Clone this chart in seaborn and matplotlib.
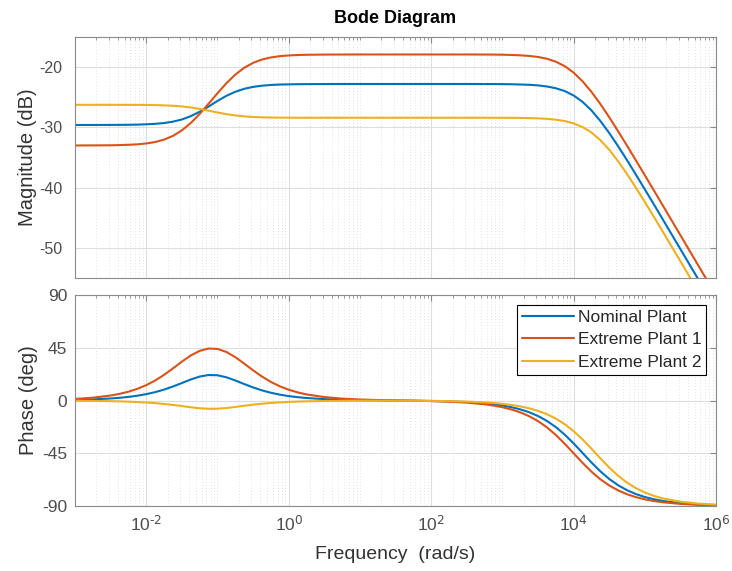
import matplotlib
matplotlib.use("Agg")
import matplotlib.pyplot as plt
import matplotlib.ticker as mticker
import numpy as np
import pandas as pd
import seaborn as sns

sns.set_style("white")
plt.rcParams["font.family"] = ["Liberation Sans", "DejaVu Sans"]
plt.rcParams["mathtext.default"] = "regular"
plt.rcParams["axes.unicode_minus"] = False

# -----------------------------
# Data
# -----------------------------
freq = [1e-3, 1.778e-3, 3.162e-3, 4.217e-3, 5.623e-3, 7.499e-3, 1e-2,
        1.334e-2, 1.778e-2, 2.371e-2, 3.162e-2, 4.217e-2, 5.623e-2, 7.499e-2, 0.1,
        0.1334, 0.1778, 0.2371, 0.3162, 0.4217, 0.5623, 0.7499, 1.0,
        1.334, 1.778, 3.162, 5.623, 10.0, 17.78, 31.62, 56.23, 100.0,
        177.8, 316.2, 562.3, 749.9, 1e3,
        1334.0, 1778.0, 2371.0, 3162.0, 4217.0, 5623.0, 7499.0, 1e4,
        13340.0, 17780.0, 23710.0, 31620.0, 42170.0, 56230.0, 74990.0, 1e5,
        133400.0, 177800.0, 316200.0, 562300.0, 1e6]

mag_nominal = [-29.60, -29.60, -29.59, -29.58, -29.57, -29.54, -29.49,
               -29.41, -29.28, -29.05, -28.69, -28.14, -27.41, -26.54, -25.61,
               -24.76, -24.09, -23.60, -23.28, -23.08, -22.96, -22.89, -22.86,
               -22.83, -22.82, -22.81, -22.80, -22.80, -22.80, -22.80, -22.80, -22.80,
               -22.80, -22.80, -22.81, -22.81, -22.82,
               -22.84, -22.88, -22.93, -23.03, -23.21, -23.50, -23.97, -24.70,
               -25.76, -27.17, -28.92, -30.93, -33.12, -35.44, -37.84, -40.28,
               -42.74, -45.23, -50.21, -55.20, -60.20]
mag_extreme1 = [-33.00, -32.99, -32.97, -32.94, -32.89, -32.81, -32.67,
                -32.43, -32.03, -31.41, -30.50, -29.27, -27.77, -26.07, -24.33,
                -22.67, -21.24, -20.11, -19.29, -18.74, -18.39, -18.18, -18.06,
                -17.99, -17.95, -17.92, -17.91, -17.90, -17.90, -17.90, -17.90, -17.90,
                -17.90, -17.90, -17.91, -17.92, -17.94,
                -17.98, -18.04, -18.14, -18.31, -18.61, -19.09, -19.84, -20.91,
                -22.34, -24.09, -26.11, -28.31, -30.64, -33.03, -35.48, -37.94,
                -40.42, -42.91, -47.90, -52.90, -57.90]
mag_extreme2 = [-26.25, -26.25, -26.25, -26.26, -26.26, -26.27, -26.28,
                -26.30, -26.35, -26.41, -26.52, -26.69, -26.93, -27.22, -27.53,
                -27.80, -28.02, -28.17, -28.27, -28.33, -28.36, -28.38, -28.39,
                -28.40, -28.40, -28.40, -28.40, -28.40, -28.40, -28.40, -28.40, -28.40,
                -28.40, -28.40, -28.40, -28.41, -28.41,
                -28.42, -28.43, -28.46, -28.50, -28.58, -28.72, -28.95, -29.33,
                -29.94, -30.85, -32.11, -33.71, -35.62, -37.74, -40.01, -42.38,
                -44.80, -47.26, -52.22, -57.21, -62.21]

phase_nominal = [0.56, 0.98, 1.75, 2.33, 3.09, 4.11, 5.43,
                 7.15, 9.33, 11.96, 14.93, 17.95, 20.44, 21.77, 21.55,
                 19.82, 17.13, 14.08, 11.18, 8.67, 6.63, 5.03, 3.79,
                 2.86, 2.15, 1.21, 0.66, 0.34, 0.13, -0.01, -0.17, -0.38,
                 -0.74, -1.33, -2.38, -3.17, -4.23,
                 -5.65, -7.51, -9.97, -13.19, -17.36, -22.63, -29.07, -36.55,
                 -44.67, -52.81, -60.37, -66.90, -72.26, -76.51, -79.80, -82.32,
                 -84.22, -85.66, -87.56, -88.63, -89.23]
phase_extreme1 = [1.35, 2.41, 4.28, 5.68, 7.54, 9.98, 13.13,
                  17.10, 21.91, 27.42, 33.16, 38.44, 42.38, 44.36, 44.02,
                  41.42, 37.02, 31.52, 25.78, 20.45, 15.86, 12.14, 9.22,
                  6.95, 5.23, 2.94, 1.64, 0.88, 0.43, 0.12, -0.15, -0.48,
                  -0.97, -1.78, -3.20, -4.28, -5.70,
                  -7.60, -10.07, -13.34, -17.55, -22.87, -29.35, -36.87, -45.00,
                  -53.13, -60.65, -67.13, -72.45, -76.66, -79.92, -82.41, -84.29,
                  -85.71, -86.78, -88.19, -88.98, -89.43]
phase_extreme2 = [-0.17, -0.31, -0.55, -0.73, -0.96, -1.28, -1.69,
                  -2.23, -2.92, -3.76, -4.73, -5.74, -6.60, -7.06, -6.97,
                  -6.39, -5.47, -4.45, -3.51, -2.71, -2.07, -1.57, -1.18,
                  -0.89, -0.67, -0.39, -0.23, -0.15, -0.12, -0.13, -0.18, -0.30,
                  -0.51, -0.90, -1.59, -2.11, -2.80,
                  -3.74, -4.98, -6.62, -8.80, -11.67, -15.40, -20.17, -26.10,
                  -33.15, -41.05, -49.27, -57.15, -64.16, -70.05, -74.77, -78.46,
                  -81.29, -83.45, -86.31, -87.92, -88.83]

names = ["Nominal Plant", "Extreme Plant 1", "Extreme Plant 2"]
colors = ["#0072BD", "#D95319", "#EDB120"]

mag = pd.DataFrame({"freq": freq * 3,
                    "value": mag_nominal + mag_extreme1 + mag_extreme2,
                    "plant": [n for n in names for _ in freq]})
phase = pd.DataFrame({"freq": freq * 3,
                      "value": phase_nominal + phase_extreme1 + phase_extreme2,
                      "plant": [n for n in names for _ in freq]})

fig = plt.figure(figsize=(7.32, 5.71), dpi=100)
ax1 = fig.add_axes([0.1025, 0.5131, 0.8757, 0.4221])
ax2 = fig.add_axes([0.1025, 0.1138, 0.8757, 0.3695])

sns.lineplot(data=mag, x="freq", y="value", hue="plant", palette=colors,
             hue_order=names, linewidth=1.5, ax=ax1, legend=False)
sns.lineplot(data=phase, x="freq", y="value", hue="plant", palette=colors,
             hue_order=names, linewidth=1.5, ax=ax2)

for ax in (ax1, ax2):
    ax.set_xscale("log")
    ax.set_xlim(1e-3, 1e6)
    ax.xaxis.set_major_locator(mticker.FixedLocator([1e-2, 1e0, 1e2, 1e4, 1e6]))
    ax.xaxis.set_minor_locator(mticker.LogLocator(base=10, subs=np.arange(1, 10), numticks=30))
    ax.xaxis.set_minor_formatter(mticker.NullFormatter())
    ax.grid(True, which="major", color="#dedede", linewidth=0.8, linestyle="-")
    ax.grid(True, which="minor", axis="x", color="#dadada", linewidth=0.6,
            linestyle=(0, (1, 2.5)))
    ax.set_axisbelow(True)
    for s in ax.spines.values():
        s.set_color("#8a8a8a")
        s.set_linewidth(0.8)
    ax.tick_params(which="both", direction="in", top=True, right=True,
                   color="#8a8a8a", labelcolor="#4d4d4d")
    ax.tick_params(which="major", length=4)
    ax.tick_params(which="minor", length=2)

ax1.tick_params(axis="y", labelsize=11.5, pad=9)
ax2.tick_params(axis="y", labelsize=12.5, pad=5.5)
ax2.tick_params(axis="x", labelsize=12.5, pad=6)

ax1.set_ylim(-55, -15)
ax1.set_yticks([-50, -40, -30, -20])
ax1.set_xticklabels([])
ax1.set_xlabel("")
ax1.set_ylabel("Magnitude (dB)", fontsize=14.5, color="#333333", labelpad=2)
ax1.set_title("Bode Diagram", fontsize=13, fontweight="bold", color="black", pad=10)

ax2.set_ylim(-90, 90)
ax2.set_yticks([-90, -45, 0, 45, 90])
ax2.xaxis.set_major_formatter(
    mticker.FuncFormatter(lambda v, p: r"$10^{\text{%d}}$" % round(np.log10(v))))
ax2.set_ylabel("Phase (deg)", fontsize=14.5, color="#333333", labelpad=3)
ax2.set_xlabel("Frequency  (rad/s)", fontsize=14, color="#333333", labelpad=9)

leg = ax2.legend(loc="upper right", fontsize=12.5, frameon=True, fancybox=False,
                 framealpha=1, edgecolor="black", handlelength=3.0,
                 borderpad=0.3, labelspacing=0.42, handletextpad=0.2,
                 borderaxespad=0.55)
leg.get_frame().set_linewidth(0.8)

fig.savefig("out.png", dpi=100, facecolor="white")
